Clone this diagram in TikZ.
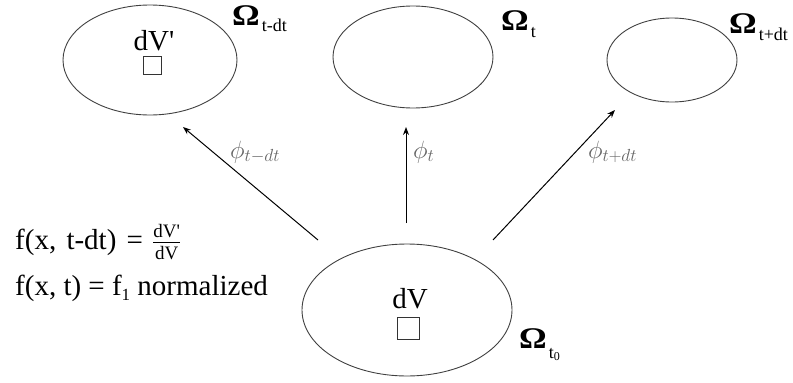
\RequirePackage{fix-cm}
\documentclass[tikz,border=0pt]{standalone}
\usepackage{fontspec}
\setmainfont{Liberation Serif}
\usetikzlibrary{shapes.geometric,arrows.meta}
\newcommand{\bigO}{\scalebox{1.15}[1]{\bfseries Ω}\hspace{2pt}}
\begin{document}
\begin{tikzpicture}[x=1pt,y=-1pt,
  region/.style={draw=black!75, line width=0.9pt, ellipse, inner sep=0pt, outer sep=0pt},
  cell/.style={draw=black!80, line width=0.8pt, inner sep=0pt, outer sep=0pt, minimum size=#1},
  txt/.style={font=\fontsize{29}{34}\selectfont, inner sep=0pt, anchor=base west},
  lbl/.style={font=\fontsize{25}{30}\selectfont, text=black!60, inner sep=0pt, anchor=base west},
  omg/.style={font=\fontsize{30}{32}\selectfont, inner sep=0pt, anchor=base west},
  flow/.style={line width=1pt, -{Stealth[length=8pt,width=6pt]}}]
\useasboundingbox (0,0) rectangle (793,383);
% regions
\node[region, minimum width=174pt, minimum height=110pt] (Em) at (150,60) {};
\node[region, minimum width=160pt, minimum height=102pt] (Et) at (413,57) {};
\node[region, minimum width=130pt, minimum height=84pt] (Ep) at (672,60) {};
\node[region, minimum width=210pt, minimum height=132pt] (E0) at (407,310) {};
% region labels
\node[omg] (Om) at (232,25) {\bigO\raisebox{-6pt}{\fontsize{18}{18}\selectfont t-dt}};
\node[omg] (Ot) at (501,30) {\bigO\raisebox{-7pt}{\fontsize{18}{18}\selectfont t}};
\node[omg] (Op) at (729,33) {\bigO\raisebox{-7pt}{\fontsize{18}{18}\selectfont t+dt}};
\node[omg] (O0) at (519,348) {\bigO\raisebox{-10pt}{\fontsize{18}{18}\selectfont t\raisebox{-2pt}{\fontsize{12}{12}\selectfont 0}}};
% volume elements
\node[txt, anchor=base] (dVp) at (154,50) {dV\textquotesingle};
\node[cell=18pt] (sq1) at (152.5,65) {};
\node[txt, anchor=base] (dV) at (410,308) {dV};
\node[cell=22pt] (sq0) at (408,328) {};
% arrows
\coordinate (am0) at (318,240);
\coordinate (am1) at (183,127);
\coordinate (at0) at (406,223);
\coordinate (at1) at (406,127);
\coordinate (ap0) at (493,240);
\coordinate (ap1) at (615,110);
\draw[flow] (am0) -- (am1);
\draw[flow] (at0) -- (at1);
\draw[flow] (ap0) -- (ap1);
\node[lbl] (Lm) at (230,158) {$\phi_{t-dt}$};
\node[lbl] (Lt) at (413,158) {$\phi_t$};
\node[lbl] (Lp) at (588,158) {$\phi_{t+dt}$};
% formulas
\node[txt] (F1) at (15,249) {f(x,\hspace{3pt} t-dt)\hspace{3pt} =\hspace{2pt} $\frac{\mbox{\fontsize{19}{19}\selectfont dV\textquotesingle}}{\mbox{\fontsize{19}{19}\selectfont dV}}$};
\node[txt] (F2) at (15,295) {f(x, t) = f\raisebox{-5pt}{\fontsize{17}{17}\selectfont 1} normalized};
\end{tikzpicture}
\end{document}
